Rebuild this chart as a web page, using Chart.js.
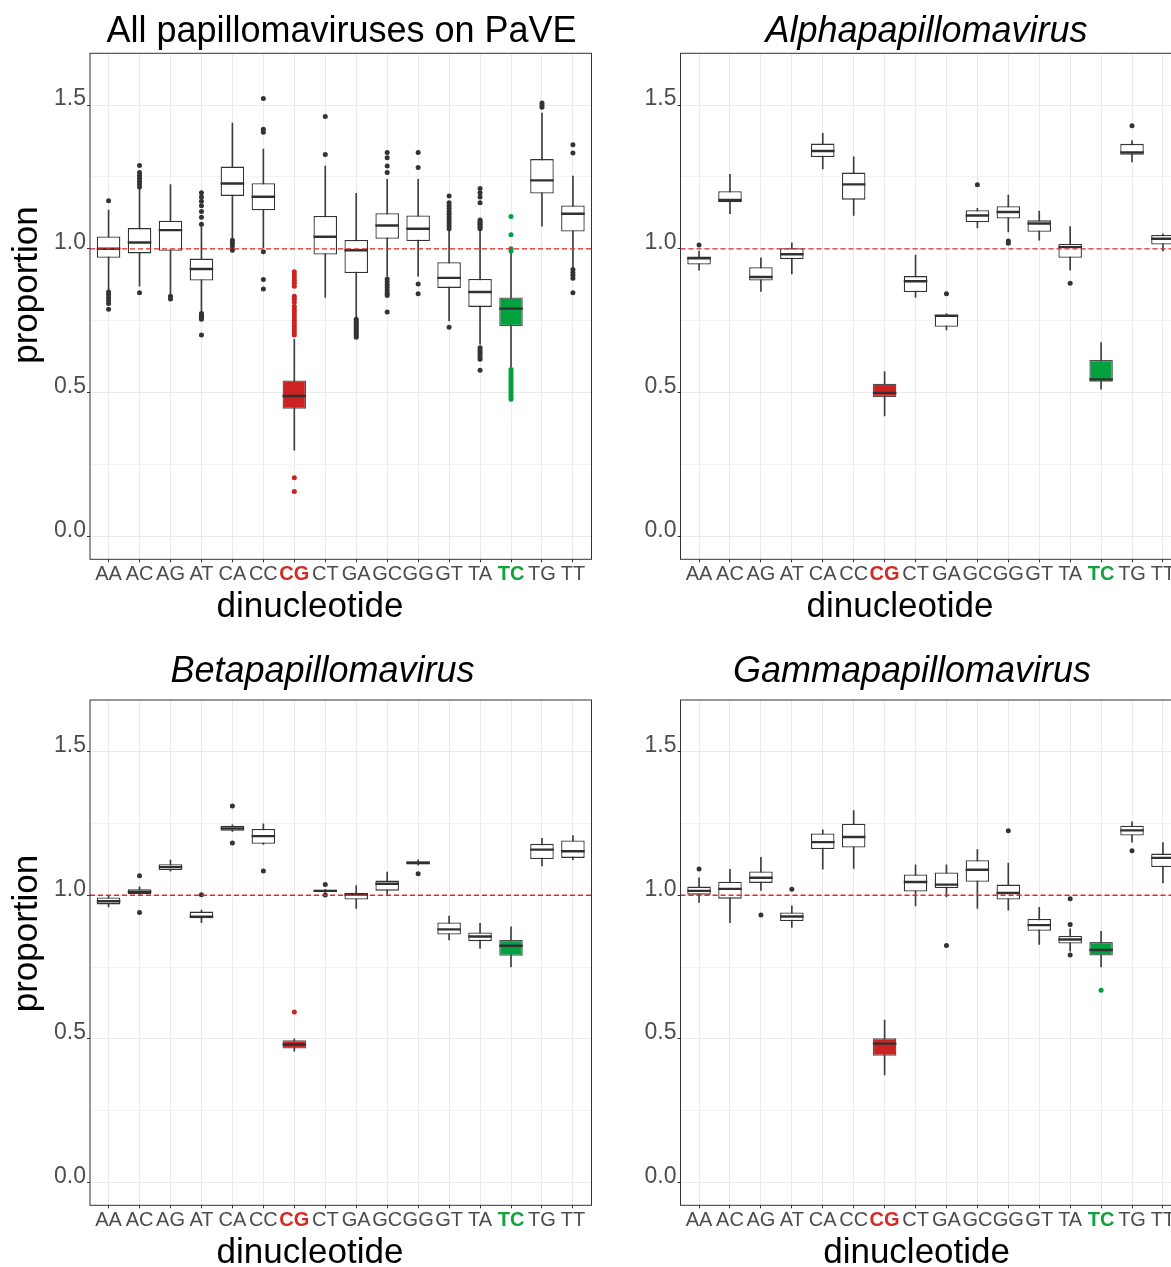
<!DOCTYPE html>
<html>
<head>
<meta charset="utf-8">
<title>Dinucleotide proportions in papillomaviruses</title>
<script src="https://cdn.jsdelivr.net/npm/chart.js@4.4.1/dist/chart.umd.min.js"></script>
<style>
    html, body { margin: 0; padding: 0; background: #ffffff; overflow: hidden; width: 1171px; height: 1267px; }
    canvas { position: absolute; }
</style>
</head>
<body>
<canvas id="allChart" width="620" height="640" style="left:0px;top:0px"></canvas>
<canvas id="alphaChart" width="600" height="640" style="left:600px;top:0px"></canvas>
<canvas id="betaChart" width="620" height="627" style="left:0px;top:640px"></canvas>
<canvas id="gammaChart" width="600" height="627" style="left:600px;top:640px"></canvas>
<script>
// Shared axis data
const dinucleotides = ['AA', 'AC', 'AG', 'AT', 'CA', 'CC', 'CG', 'CT', 'GA', 'GC', 'GG', 'GT', 'TA', 'TC', 'TG', 'TT'];
const yMin = -0.08;
const yMax = 1.68;
const yGridValues = [0, 0.25, 0.5, 0.75, 1.0, 1.25, 1.5];
const yTickLabels = ['0.0', '', '0.5', '', '1.0', '', '1.5'];
const referenceLevel = 1.0;

// All papillomaviruses on PaVE
const allLow  = [0.858, 0.870, 0.840, 0.780, 1.033, 1.003, 0.300, 0.831, 0.760, 0.905, 0.905, 0.749, 0.668, 0.587, 1.079, 0.930];
const allQ1   = [0.969, 0.984, 0.993, 0.890, 1.184, 1.134, 0.444, 0.980, 0.916, 1.035, 1.027, 0.864, 0.798, 0.731, 1.192, 1.060];
const allMed  = [1.000, 1.022, 1.065, 0.930, 1.227, 1.181, 0.488, 1.042, 0.995, 1.081, 1.070, 0.899, 0.850, 0.792, 1.238, 1.122];
const allQ3   = [1.043, 1.072, 1.098, 0.966, 1.286, 1.228, 0.542, 1.114, 1.031, 1.124, 1.116, 0.953, 0.895, 0.831, 1.312, 1.151];
const allHigh = [1.135, 1.207, 1.223, 1.079, 1.437, 1.347, 0.685, 1.288, 1.193, 1.242, 1.242, 1.067, 1.067, 0.986, 1.472, 1.253];
const allOutliers = [
    [1.167, 0.85, 0.84, 0.83, 0.82, 0.81, 0.79],
    [1.29, 1.265, 1.255, 1.245, 1.235, 1.225, 1.215, 0.847],
    [0.835, 0.825],
    [1.195, 1.18, 1.165, 1.15, 1.13, 1.11, 1.085, 0.775, 0.77, 0.765, 0.76, 0.755, 0.70],
    [1.03, 1.02, 1.01, 0.995],
    [1.523, 1.416, 1.405, 0.99, 0.893, 0.86],
    [0.92, 0.91, 0.90, 0.89, 0.88, 0.87, 0.835, 0.825, 0.815, 0.80, 0.79, 0.78, 0.77, 0.76, 0.75, 0.74, 0.73, 0.72, 0.71, 0.70, 0.204, 0.156],
    [1.46, 1.328],
    [0.755, 0.748, 0.741, 0.734, 0.727, 0.72, 0.713, 0.706, 0.699, 0.692],
    [1.335, 1.317, 1.288, 1.265, 0.895, 0.885, 0.875, 0.865, 0.855, 0.845, 0.838, 0.78],
    [1.335, 1.283, 0.878, 0.844],
    [1.184, 1.16, 1.15, 1.14, 1.13, 1.12, 1.11, 1.10, 1.09, 1.08, 1.07, 0.727],
    [1.21, 1.195, 1.18, 1.16, 1.10, 1.095, 1.09, 1.085, 1.08, 1.075, 1.07, 0.656, 0.648, 0.64, 0.632, 0.624, 0.616, 0.578],
    [1.112, 1.049, 1.0, 0.992, 0.58, 0.572, 0.564, 0.556, 0.548, 0.54, 0.532, 0.524, 0.516, 0.508, 0.50, 0.492, 0.484, 0.477],
    [1.507, 1.5, 1.492],
    [1.362, 1.333, 0.928, 0.918, 0.908, 0.898, 0.847]
];

// Alphapapillomavirus
const alphaLow  = [0.926, 1.122, 0.852, 0.913, 1.278, 1.116, 0.419, 0.831, 0.718, 1.073, 1.059, 1.030, 0.926, 0.512, 1.302, 0.993];
const alphaQ1   = [0.945, 1.162, 0.890, 0.964, 1.319, 1.171, 0.484, 0.850, 0.729, 1.092, 1.105, 1.059, 0.969, 0.538, 1.327, 1.015];
const alphaMed  = [0.967, 1.170, 0.902, 0.981, 1.340, 1.224, 0.499, 0.887, 0.767, 1.116, 1.128, 1.088, 1.006, 0.546, 1.335, 1.035];
const alphaQ3   = [0.973, 1.200, 0.936, 1.002, 1.366, 1.265, 0.531, 0.905, 0.770, 1.134, 1.148, 1.099, 1.017, 0.613, 1.365, 1.048];
const alphaHigh = [0.992, 1.259, 0.969, 1.021, 1.402, 1.320, 0.573, 0.978, 0.775, 1.141, 1.187, 1.131, 1.077, 0.674, 1.376, 1.052];
const alphaOutliers = [[1.013], [], [], [], [], [], [], [], [0.844], [1.223], [1.027, 1.019], [], [0.88], [], [1.428], []];

// Betapapillomavirus
const betaLow  = [0.959, 1.000, 1.084, 0.904, 1.222, 1.177, 0.457, 1.010, 0.954, 1.003, 1.105, 0.844, 0.815, 0.750, 1.102, 1.123];
const betaQ1   = [0.968, 1.003, 1.088, 0.920, 1.225, 1.179, 0.466, 1.012, 0.985, 1.016, 1.108, 0.863, 0.840, 0.789, 1.126, 1.130];
const betaMed  = [0.979, 1.012, 1.098, 0.925, 1.233, 1.206, 0.480, 1.015, 1.002, 1.040, 1.112, 0.881, 0.856, 0.824, 1.159, 1.153];
const betaQ3   = [0.992, 1.021, 1.108, 0.943, 1.242, 1.231, 0.495, 1.019, 1.009, 1.051, 1.118, 0.905, 0.870, 0.844, 1.179, 1.191];
const betaHigh = [0.997, 1.029, 1.122, 0.948, 1.245, 1.249, 0.500, 1.020, 1.034, 1.081, 1.123, 0.927, 0.902, 0.890, 1.198, 1.208];
const betaOutliers = [[], [1.068, 0.94], [], [1.002], [1.311, 1.182], [1.084], [0.593], [1.037, 1.001], [], [], [1.075], [], [], [], [], []];

// Gammapapillomavirus
const gammaLow  = [0.975, 0.904, 1.017, 0.888, 1.091, 1.093, 0.374, 0.963, 0.994, 0.954, 0.948, 0.829, 0.805, 0.750, 1.185, 1.043];
const gammaQ1   = [1.002, 0.988, 1.043, 0.910, 1.161, 1.166, 0.441, 1.013, 1.025, 1.047, 0.985, 0.876, 0.832, 0.790, 1.208, 1.098];
const gammaMed  = [1.015, 1.022, 1.061, 0.926, 1.185, 1.203, 0.483, 1.046, 1.037, 1.089, 1.008, 0.896, 0.846, 0.809, 1.226, 1.130];
const gammaQ3   = [1.030, 1.047, 1.083, 0.940, 1.215, 1.249, 0.502, 1.072, 1.079, 1.122, 1.037, 0.917, 0.858, 0.837, 1.242, 1.145];
const gammaHigh = [1.061, 1.090, 1.132, 0.963, 1.228, 1.295, 0.565, 1.106, 1.106, 1.159, 1.112, 0.958, 0.883, 0.874, 1.256, 1.183];
const gammaOutliers = [[1.091], [], [0.931], [1.021], [], [], [], [], [0.825], [], [1.225], [], [0.988, 0.898, 0.792], [0.669], [1.155], []];

// Styling
const FONT = "'Liberation Sans', Arial, Helvetica, sans-serif";
const BOX_WIDTH = 0.76;   // fraction of one category step
const highlight = {
    CG: { fill: '#cc2222', text: '#d42a26' },
    TC: { fill: '#00a13e', text: '#13a13f' }
};

Chart.defaults.font.family = FONT;
Chart.defaults.color = '#4d4d4d';

function boxFill(i) {
    const h = highlight[dinucleotides[i]];
    return h ? h.fill : '#ffffff';
}
function boxEdge(i) {
    return highlight[dinucleotides[i]] ? '#505050' : '#333333';
}
function dotColor(i) {
    const h = highlight[dinucleotides[i]];
    return h ? h.fill : '#333333';
}
function halfBox(chart) {
    const x = chart.scales.x;
    return (x.getPixelForValue(1) - x.getPixelForValue(0)) * BOX_WIDTH / 2;
}

// Titles and axis captions
const panelCaptions = {
    id: 'panelCaptions',
    afterDraw(chart, args, opts) {
        const ctx = chart.ctx;
        ctx.save();
        ctx.fillStyle = '#000000';
        ctx.textAlign = 'center';
        ctx.textBaseline = 'alphabetic';
        ctx.font = (opts.italic ? 'italic ' : '') + '36px ' + FONT;
        ctx.fillText(opts.title, opts.titleX, opts.titleY);
        ctx.font = '35px ' + FONT;
        ctx.fillText('dinucleotide', opts.xLabelX, opts.xLabelY);
        if (opts.yLabel) {
            ctx.translate(opts.yLabelX, opts.yLabelY);
            ctx.rotate(-Math.PI / 2);
            ctx.fillText(opts.yLabel, 0, 0);
        }
        ctx.restore();
    }
};

// Dashed reference line at 1.0 and the panel frame
const panelFrame = {
    id: 'panelFrame',
    afterDatasetsDraw(chart) {
        const { ctx, chartArea: a, scales: { y } } = chart;
        const yp = y.getPixelForValue(referenceLevel);
        ctx.save();
        ctx.strokeStyle = '#e5262b';
        ctx.lineWidth = 1.3;
        ctx.setLineDash([5, 3]);
        ctx.beginPath();
        ctx.moveTo(a.left, yp);
        ctx.lineTo(a.right, yp);
        ctx.stroke();
        ctx.setLineDash([]);
        ctx.strokeStyle = '#333333';
        ctx.lineWidth = 1;
        ctx.strokeRect(a.left, a.top, a.right - a.left, a.bottom - a.top);
        ctx.restore();
    }
};

function createBoxChart(canvasId, low, q1, med, q3, high, outliers, panel) {
    const ctx = document.getElementById(canvasId).getContext('2d');
    const at = (values) => values.map((v, i) => ({ x: i, y: v }));
    const dots = outliers.flatMap((vals, i) => vals.map(v => ({ x: i, y: v })));

    return new Chart(ctx, {
        type: 'bar',
        data: {
            datasets: [
                {
                    // medians, top-most
                    type: 'line',
                    data: at(med),
                    showLine: false,
                    pointStyle: 'line',
                    pointRadius: c => halfBox(c.chart),
                    pointHoverRadius: c => halfBox(c.chart),
                    pointBorderWidth: 2.4,
                    pointBorderColor: '#303030'
                },
                {
                    type: 'line',
                    data: dots,
                    showLine: false,
                    pointStyle: 'circle',
                    pointRadius: 2.5,
                    pointBorderWidth: 0,
                    pointBackgroundColor: c => dotColor(c.raw.x)
                },
                {
                    // boxes q1..q3
                    data: q1.map((v, i) => ({ x: i, y: [v, q3[i]] })),
                    backgroundColor: q1.map((_, i) => boxFill(i)),
                    borderColor: q1.map((_, i) => boxEdge(i)),
                    borderWidth: 1.3,
                    borderSkipped: false,
                    barPercentage: BOX_WIDTH,
                    categoryPercentage: 1,
                    grouped: false
                },
                {
                    // whiskers
                    data: low.map((v, i) => ({ x: i, y: [v, high[i]] })),
                    backgroundColor: '#3d3d3d',
                    borderWidth: 0,
                    barThickness: 1,
                    grouped: false
                }
            ]
        },
        options: {
            responsive: false,
            animation: false,
            devicePixelRatio: 1,
            events: [],
            layout: { padding: panel.padding },
            scales: {
                x: {
                    type: 'linear',
                    min: -0.6,
                    max: dinucleotides.length - 0.4,
                    offset: false,
                    afterBuildTicks: axis => { axis.ticks = dinucleotides.map((_, i) => ({ value: i })); },
                    afterFit: axis => { axis.height = panel.xAxisHeight; },
                    border: { display: false },
                    grid: { color: '#ebebeb', lineWidth: 1, offset: false, tickLength: 3, tickColor: '#333333' },
                    ticks: {
                        autoSkip: false,
                        maxRotation: 0,
                        padding: 0,
                        callback: v => dinucleotides[v],
                        color: c => highlight[dinucleotides[c.index]] ? highlight[dinucleotides[c.index]].text : '#4d4d4d',
                        font: c => ({ size: 20, weight: highlight[dinucleotides[c.index]] ? 'bold' : 'normal' })
                    }
                },
                y: {
                    min: yMin,
                    max: yMax,
                    beginAtZero: false,
                    afterBuildTicks: axis => { axis.ticks = yGridValues.map(v => ({ value: v })); },
                    afterFit: axis => { axis.width = panel.yAxisWidth; },
                    border: { display: false },
                    grid: {
                        color: c => yTickLabels[c.index] ? '#ebebeb' : '#f3f3f3',
                        lineWidth: 1,
                        tickLength: 3,
                        tickColor: c => yTickLabels[c.index] ? '#333333' : 'rgba(0,0,0,0)'
                    },
                    ticks: {
                        padding: 1,
                        labelOffset: -6,
                        color: '#4d4d4d',
                        font: { size: 23 },
                        callback: (v, i) => yTickLabels[i]
                    }
                }
            },
            plugins: {
                legend: { display: false },
                tooltip: { enabled: false },
                panelCaptions: panel.captions
            }
        },
        plugins: [panelFrame, panelCaptions]
    });
}

createBoxChart('allChart', allLow, allQ1, allMed, allQ3, allHigh, allOutliers, {
    padding: { left: 0, top: 53.3, right: 28.5, bottom: 0 },
    yAxisWidth: 90, xAxisHeight: 80.7,
    captions: { title: 'All papillomaviruses on PaVE', italic: false, titleX: 341.5, titleY: 41.5,
                xLabelX: 310, xLabelY: 616.7, yLabel: 'proportion', yLabelX: 37, yLabelY: 285 }
});

createBoxChart('alphaChart', alphaLow, alphaQ1, alphaMed, alphaQ3, alphaHigh, alphaOutliers, {
    padding: { left: 0, top: 53.3, right: 18.5, bottom: 0 },
    yAxisWidth: 80.5, xAxisHeight: 80.7,
    captions: { title: 'Alphapapillomavirus', italic: true, titleX: 326.5, titleY: 41.5,
                xLabelX: 300, xLabelY: 616.7 }
});

createBoxChart('betaChart', betaLow, betaQ1, betaMed, betaQ3, betaHigh, betaOutliers, {
    padding: { left: 0, top: 60, right: 28.5, bottom: 0 },
    yAxisWidth: 90, xAxisHeight: 61.7,
    captions: { title: 'Betapapillomavirus', italic: true, titleX: 322.5, titleY: 41.7,
                xLabelX: 310, xLabelY: 622.7, yLabel: 'proportion', yLabelX: 37, yLabelY: 293.5 }
});

createBoxChart('gammaChart', gammaLow, gammaQ1, gammaMed, gammaQ3, gammaHigh, gammaOutliers, {
    padding: { left: 0, top: 60, right: 18.5, bottom: 0 },
    yAxisWidth: 80.5, xAxisHeight: 61.7,
    captions: { title: 'Gammapapillomavirus', italic: true, titleX: 312, titleY: 41.7,
                xLabelX: 316.6, xLabelY: 622.7 }
});
</script>
</body>
</html>
